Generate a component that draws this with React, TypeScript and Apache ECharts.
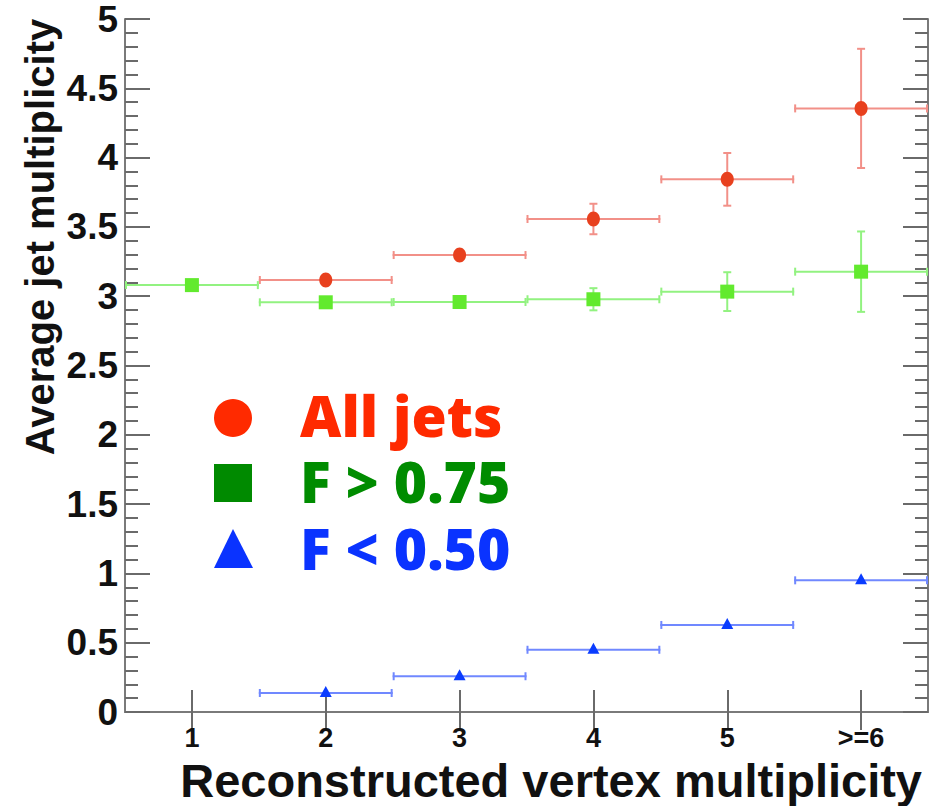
import React, { useEffect, useRef } from "react";
import * as echarts from "echarts";

const categories = ["1", "2", "3", "4", "5", ">=6"];
const yTickLabels = ["0", "0.5", "1", "1.5", "2", "2.5", "3", "3.5", "4", "4.5", "5"];

const allJetsValues = [null, 3.117, 3.297, 3.557, 3.843, 4.355];
const allJetsErrors = [null, 0.03, 0.04, 0.11, 0.19, 0.43];

const fHighValues = [3.08, 2.956, 2.958, 2.978, 3.033, 3.177];
const fHighErrors = [0.02, 0.03, 0.03, 0.08, 0.14, 0.29];

const fLowValues = [null, 0.137, 0.258, 0.449, 0.628, 0.95];
const fLowErrors = [null, 0.01, 0.01, 0.015, 0.02, 0.02];

const legendLabels = ["All jets", "F > 0.75", "F < 0.50"];

type Marker = "circle" | "square" | "triangle";

function buildData(values: (number | null)[], errors: (number | null)[]) {
  const out: number[][] = [];
  values.forEach((v, i) => {
    if (v !== null && v !== undefined) out.push([i, v, errors[i] ?? 0]);
  });
  return out;
}

function makeRender(marker: Marker, markerColor: string, lineColor: string) {
  return (params: any, api: any) => {
    const ci = api.value(0);
    const y = api.value(1);
    const e = api.value(2);
    const c = api.coord([ci, y]);
    const w = api.size([1, 0])[0];
    const top = api.coord([ci, y + e])[1];
    const bot = api.coord([ci, y - e])[1];
    const cx = c[0];
    const cy = c[1];
    const x1 = cx - w / 2;
    const x2 = cx + w / 2;
    const ls = { stroke: lineColor, lineWidth: 2 };
    const children: any[] = [
      { type: "line", shape: { x1, y1: cy, x2, y2: cy }, style: ls },
      { type: "line", shape: { x1: x1 + 1, y1: cy - 4, x2: x1 + 1, y2: cy + 4 }, style: ls },
      { type: "line", shape: { x1: x2 - 1, y1: cy - 4, x2: x2 - 1, y2: cy + 4 }, style: ls },
    ];
    if (bot - top > 12) {
      children.push(
        { type: "line", shape: { x1: cx, y1: top, x2: cx, y2: bot }, style: ls },
        { type: "line", shape: { x1: cx - 4, y1: top, x2: cx + 4, y2: top }, style: ls },
        { type: "line", shape: { x1: cx - 4, y1: bot, x2: cx + 4, y2: bot }, style: ls }
      );
    }
    if (marker === "circle") {
      children.push({ type: "ellipse", shape: { cx, cy, rx: 6.5, ry: 7.5 }, style: { fill: markerColor } });
    } else if (marker === "square") {
      children.push({ type: "rect", shape: { x: cx - 7, y: cy - 7, width: 14, height: 14 }, style: { fill: markerColor } });
    } else {
      children.push({
        type: "polygon",
        shape: { points: [[cx, cy - 7], [cx - 6, cy + 4], [cx + 6, cy + 4]] },
        style: { fill: markerColor },
      });
    }
    return { type: "group", children };
  };
}

export default function App() {
  const ref = useRef<HTMLDivElement>(null);
  useEffect(() => {
    if (!ref.current) return;
    const chart = echarts.init(ref.current, undefined, { renderer: "svg" });
    const axisLine = { show: true, lineStyle: { color: "#7a7a7a", width: 2 } };
    const yAxisCommon = {
      type: "value",
      min: 0,
      max: 5,
      interval: 0.5,
      splitLine: { show: false },
      axisLine,
      axisTick: { show: true, inside: true, length: 25, lineStyle: { color: "#6a6a6a", width: 2 } },
      minorTick: { show: true, splitNumber: 5, length: 13, lineStyle: { color: "#6a6a6a", width: 2 } },
      minorSplitLine: { show: false },
    };
    const legendText = (text: string, y: number, fill: string) => ({
      type: "text",
      x: 300,
      y,
      style: {
        text,
        fontSize: 57,
        lineHeight: 52,
        fontWeight: 800,
        fontFamily: "Open Sans, sans-serif",
        fill,
        align: "left",
        verticalAlign: "middle",
      },
    });
    chart.setOption({
      animation: false,
      backgroundColor: "#ffffff",
      grid: { left: 125, right: 12, top: 19, bottom: 94, containLabel: false },
      xAxis: [
        {
          type: "category",
          data: categories,
          position: "bottom",
          boundaryGap: true,
          axisLine,
          axisTick: { show: true, inside: true, alignWithLabel: true, length: 22, lineStyle: { color: "#6a6a6a", width: 2 } },
          axisLabel: {
            show: true,
            margin: 12,
            fontSize: 27,
            fontWeight: "bold",
            fontFamily: "Liberation Sans, Arial, sans-serif",
            color: "#111",
          },
          splitLine: { show: false },
        },
        {
          type: "category",
          data: categories,
          position: "top",
          boundaryGap: true,
          axisLine,
          axisTick: { show: true, inside: true, alignWithLabel: true, length: 18, lineStyle: { color: "#6a6a6a", width: 2 } },
          axisLabel: { show: false },
          splitLine: { show: false },
        },
      ],
      yAxis: [
        {
          ...yAxisCommon,
          position: "left",
          axisLabel: {
            show: true,
            margin: 7,
            fontSize: 37,
            fontWeight: "bold",
            fontFamily: "Liberation Sans, Arial, sans-serif",
            color: "#111",
            padding: [8, 0, 0, 0],
            formatter: (v: number) => yTickLabels[Math.round(v * 2)] ?? String(v),
          },
        },
        {
          ...yAxisCommon,
          position: "right",
          axisLabel: { show: false },
        },
      ],
      series: [
        {
          type: "custom",
          name: legendLabels[0],
          xAxisIndex: 0,
          yAxisIndex: 0,
          clip: true,
          data: buildData(allJetsValues, allJetsErrors),
          renderItem: makeRender("circle", "#e8401e", "#f29088"),
        },
        {
          type: "custom",
          name: legendLabels[1],
          xAxisIndex: 0,
          yAxisIndex: 0,
          clip: true,
          data: buildData(fHighValues, fHighErrors),
          renderItem: makeRender("square", "#62ea2e", "#92f280"),
        },
        {
          type: "custom",
          name: legendLabels[2],
          xAxisIndex: 0,
          yAxisIndex: 0,
          clip: true,
          data: buildData(fLowValues, fLowErrors),
          renderItem: makeRender("triangle", "#0a3cff", "#7088ff"),
        },
      ],
      graphic: [
        {
          type: "text",
          x: 40,
          y: 237,
          rotation: Math.PI / 2,
          style: {
            text: "Average jet multiplicity",
            fontSize: 40,
            fontWeight: "bold",
            fontFamily: "Liberation Sans, Arial, sans-serif",
            fill: "#111",
            align: "center",
            verticalAlign: "middle",
          },
        },
        {
          type: "text",
          x: 922,
          y: 780,
          style: {
            text: "Reconstructed vertex multiplicity",
            fontSize: 47,
            lineHeight: 44,
            fontWeight: "bold",
            fontFamily: "Liberation Sans, Arial, sans-serif",
            fill: "#111",
            align: "right",
            verticalAlign: "middle",
          },
        },
        { type: "circle", shape: { cx: 233, cy: 418, r: 19 }, style: { fill: "#ff2a00" } },
        { type: "rect", shape: { x: 214, y: 464, width: 38, height: 38 }, style: { fill: "#008a00" } },
        {
          type: "polygon",
          shape: { points: [[233, 529], [214, 568], [253, 568]] },
          style: { fill: "#0a33ff" },
        },
        legendText(legendLabels[0], 415, "#ff2a00"),
        legendText(legendLabels[1], 481, "#008c00"),
        legendText(legendLabels[2], 548, "#0a33ff"),
      ],
    });
    return () => chart.dispose();
  }, []);
  return <div ref={ref} style={{ width: 940, height: 806, position: "fixed", left: 0, top: 0 }} />;
}
